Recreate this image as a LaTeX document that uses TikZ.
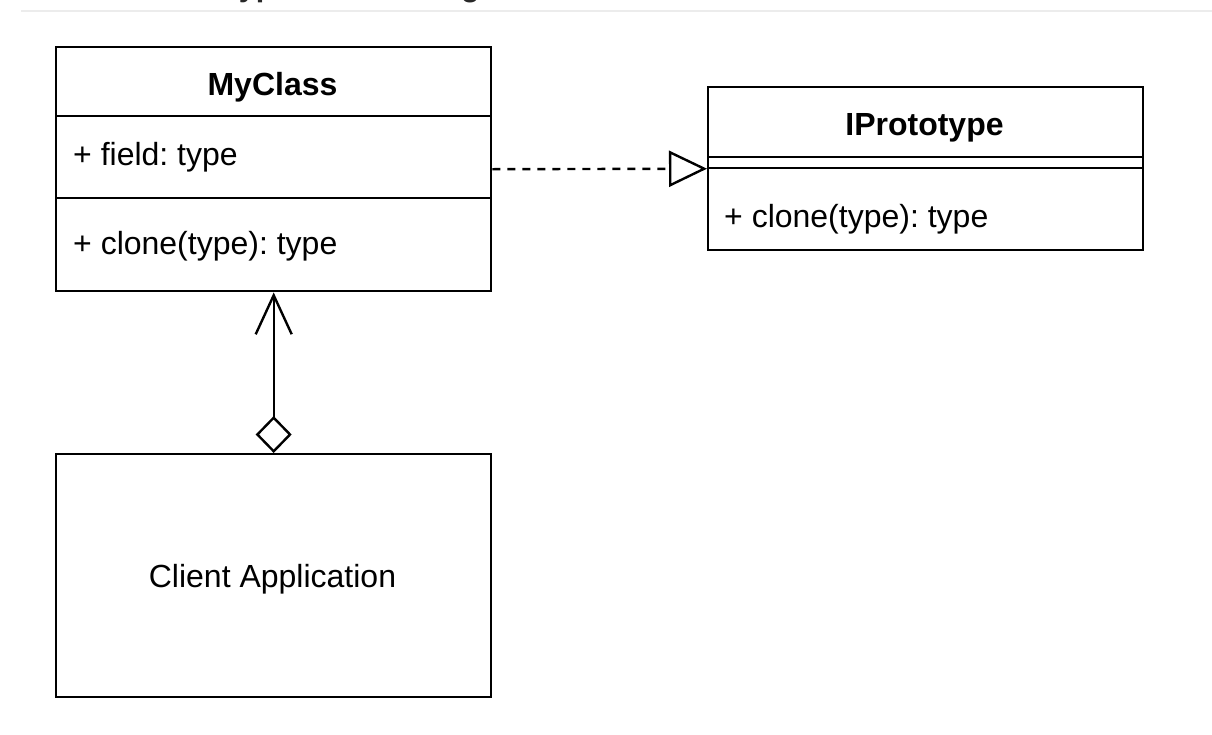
\documentclass[tikz,border=0pt]{standalone}
\usepackage{fontspec}
\setmainfont{Liberation Sans}
\usetikzlibrary{arrows.meta,calc}
\definecolor{rulegray}{RGB}{236,236,236}
\definecolor{titlegray}{RGB}{40,40,40}
\frenchspacing
\begin{document}
\begin{tikzpicture}[x=1pt,y=-1pt,line width=2.4pt,
  umlbox/.style={draw,rectangle,inner sep=0pt,anchor=north west},
  txt/.style={inner sep=0pt,font=\fontsize{32}{38}\selectfont},
  hdr/.style={inner sep=0pt,font=\fontsize{32}{38}\selectfont\bfseries},
  sep/.style={line width=2.4pt},
  realize/.style={dash pattern=on 8pt off 7pt,-{Triangle[open,length=38pt,width=36pt]}},
  aggr/.style={{Diamond[open,length=37pt,width=36pt]}-{Straight Barb[length=39pt,width=36pt]}}]
\useasboundingbox (0,0) rectangle (1212,734);
\begin{scope}
\clip (0,0) rectangle (1212,734);
\node[inner sep=0pt,anchor=base west,font=\fontsize{30.5}{36}\selectfont\bfseries,text=titlegray] (title) at (148,-3.4) {Prototype Pattern Diagram};
\end{scope}
\coordinate (rl) at (21,11);
\coordinate (rr) at (1212,11);
\draw[line width=1.5pt,rulegray] (rl) -- (rr);

% MyClass
\node[umlbox,minimum width=435pt,minimum height=244pt] (mycls) at (55,46) {};
\draw[sep] ($(mycls.north west)+(0,70)$) -- ($(mycls.north east)+(0,70)$);
\draw[sep] ($(mycls.north west)+(0,152)$) -- ($(mycls.north east)+(0,152)$);
\node[hdr,anchor=base] (myname) at (272.5,95) {MyClass};
\node[txt,anchor=base west] (myfield) at (72,165) {+ field: type};
\node[txt,anchor=base west] (mymeth) at (72,254) {+ clone(type): type};

% IPrototype
\node[umlbox,minimum width=435pt,minimum height=163pt] (iproto) at (707,86) {};
\draw[sep] ($(iproto.north west)+(0,71)$) -- ($(iproto.north east)+(0,71)$);
\draw[sep] ($(iproto.north west)+(0,82)$) -- ($(iproto.north east)+(0,82)$);
\node[hdr,anchor=base] (ipname) at (924.5,135) {IPrototype};
\node[txt,anchor=base west] (ipmeth) at (723,227) {+ clone(type): type};

% Client
\node[umlbox,minimum width=435pt,minimum height=243pt] (client) at (55,453) {};
\node[txt,anchor=base] (clientname) at (272.5,587) {Client Application};

% connectors
\draw[realize] (mycls.east) -- (iproto.west);
\draw[aggr] (client.north) -- (mycls.south);
\end{tikzpicture}
\end{document}
